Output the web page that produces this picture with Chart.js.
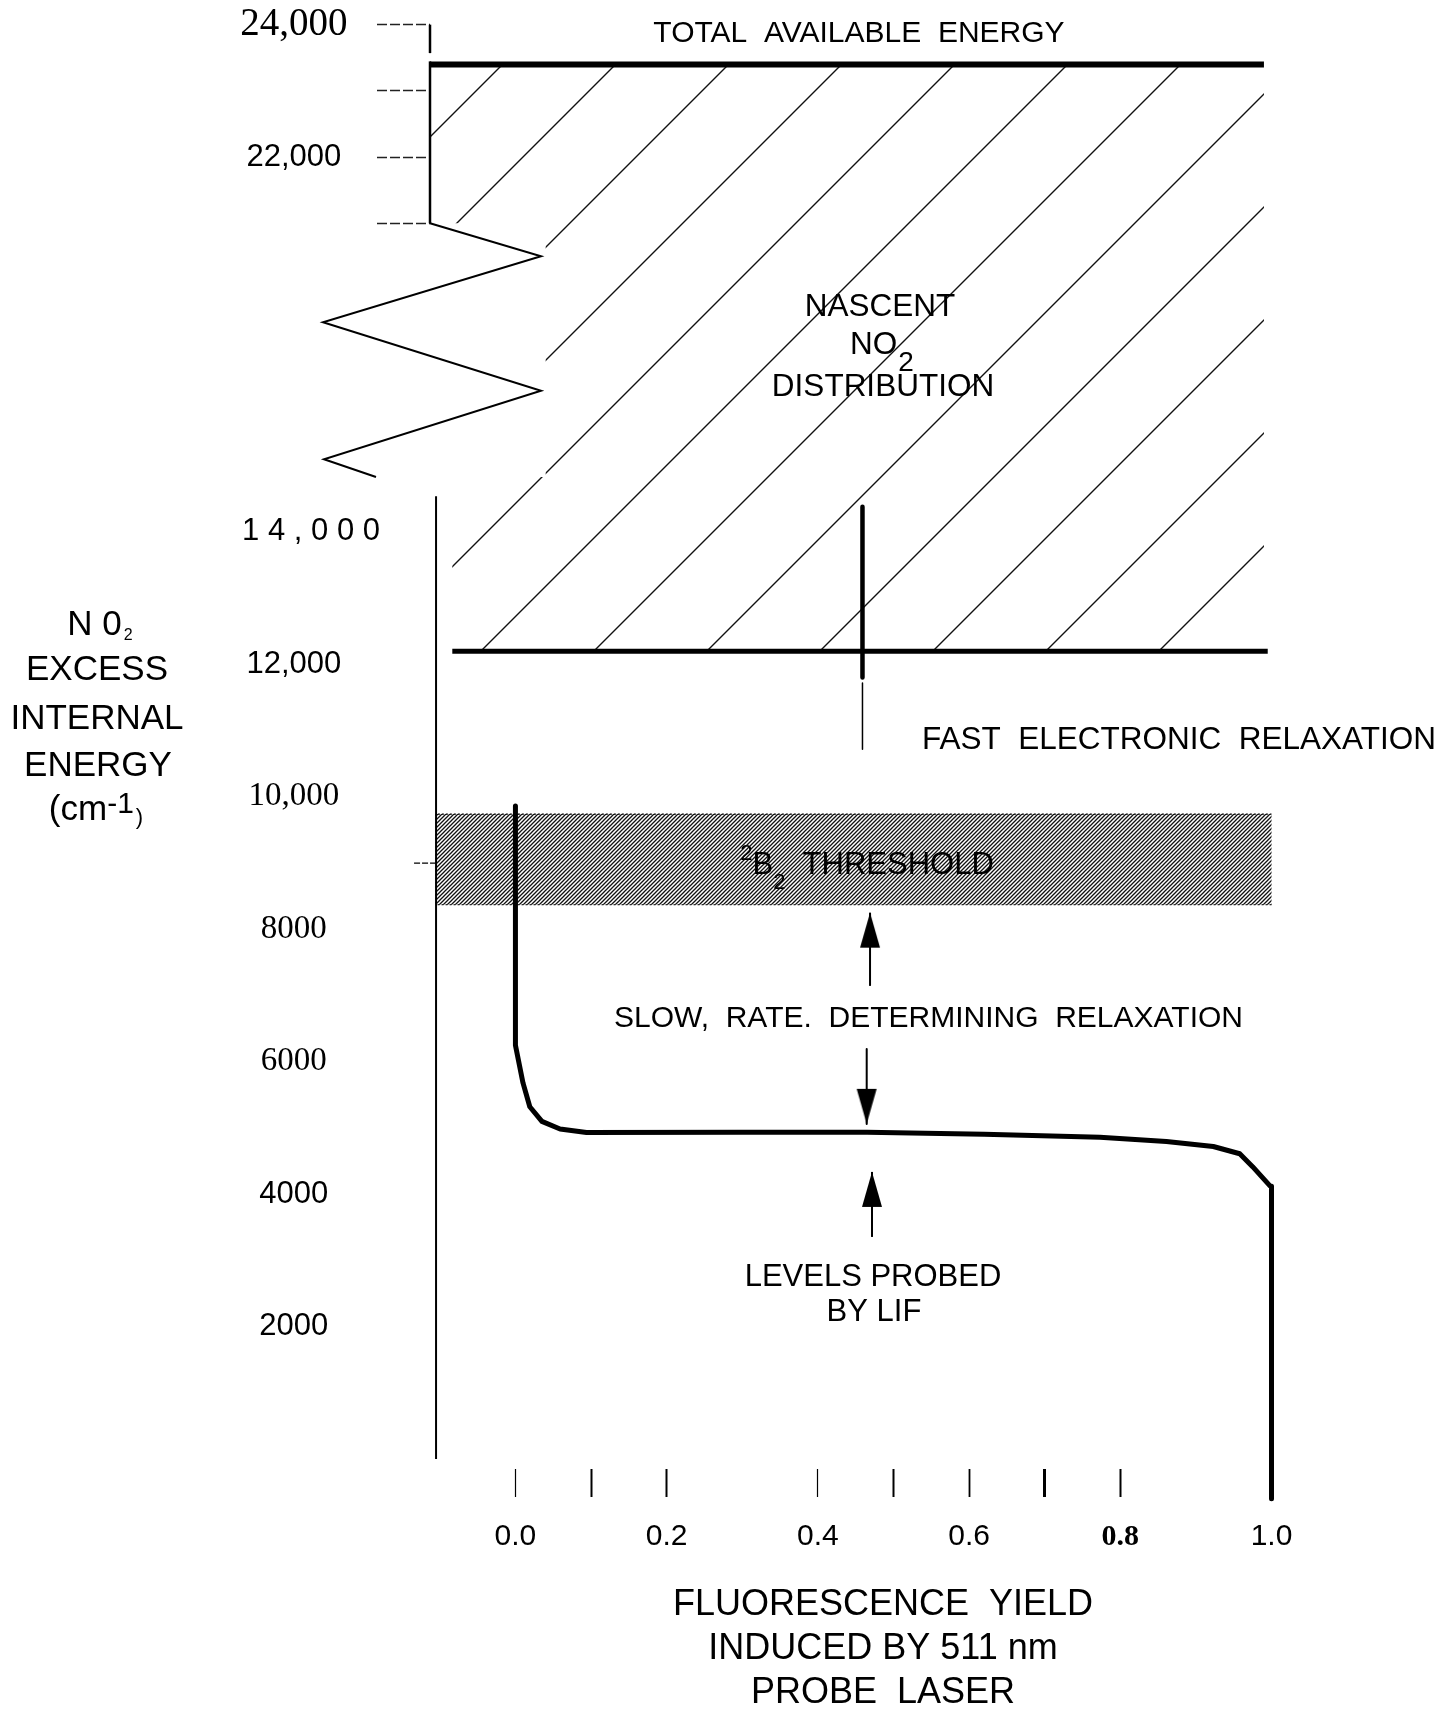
<!DOCTYPE html>
<html>
<head>
<meta charset="utf-8">
<title>NO2 excess internal energy vs fluorescence yield</title>
<script src="https://cdn.jsdelivr.net/npm/chart.js@4.4.1/dist/chart.umd.min.js"></script>
<style>
  html, body { margin: 0; padding: 0; background: #ffffff; }
  canvas { display: block; }
</style>
</head>
<body>
<canvas id="c" width="1438" height="1710"></canvas>
<script>
// ---------------- data ----------------
const X_TICKS = [0, 0.1, 0.2, 0.4, 0.5, 0.6, 0.7, 0.8, 1.0];
const X_TICK_LABELS = ['0.0', '', '0.2', '0.4', '', '0.6', '', '0.8', '1.0'];

const Y_TICKS = [24000, 23000, 22000, 21000, 14000, 12000, 10000, 8000, 6000, 4000, 2000];
const Y_TICK_LABELS = ['24,000', '', '22,000', '', '    1 4 , 0 0 0', '12,000', '10,000', '8000', '6000', '4000', '2000'];

// fluorescence yield induced by the 511 nm probe vs. NO2 internal energy
const CURVE_YIELD  = [0, 0, 0.010, 0.019, 0.035, 0.059, 0.094, 0.30, 0.465, 0.62, 0.773, 0.861, 0.923, 0.958, 0.975, 0.998, 1.0, 1.0];
const CURVE_ENERGY = [9860, 6250, 5680, 5320, 5100, 4985, 4930, 4935, 4935, 4905, 4860, 4795, 4720, 4610, 4415, 4125, 4120, -600];

// energy levels (cm-1)
const TOTAL_ENERGY = 23400;
const NASCENT_LOW = 12200;
const TOTAL_LINE_X = [-0.113, 0.99];
const LOW_LINE_X = [-0.0835, 0.995];

// nascent NO2 distribution region (outline, broken across the axis gap)
const NASCENT_X = [-0.113, 0.99, 0.99, -0.0835, -0.0835, 0.04, 0.04, -0.113];
const NASCENT_Y = [23400, 23400, 12200, 12200, 14830, 14830, 21000, 21000];

// 2B2 threshold band
const THRESHOLD_X = [1.0, -0.105, -0.105, 1.0];
const THRESHOLD_Y = [8370, 8370, 9740, 9740];

// fast electronic relaxation marker
const FAST_X = 0.459;
const FAST_THICK = [14380, 11800];
const FAST_THIN = [11720, 10720];

// arrows: tail energy -> tip energy
const ARROW_X    = [0.469, 0.4646, 0.4716];
const ARROW_FROM = [7145, 6193, 3354];
const ARROW_TO   = [8251, 5061, 4336];

// axis extent and break
const X_MIN = -0.113, X_MAX = 1.0853;
const Y_MIN = -150, Y_MAX = 24040;
const BREAK_LO = 14830, BREAK_HI = 21000, BREAK_GAP = 2340;
const Y_AXIS_LOW_TOP = 14540, Y_MINOR_TICK = 9000, BRACKET_END = 23570;
const LOWER_AXIS_X = -0.105;

// ---------------- helpers ----------------
const SANS = "'Liberation Sans', Arial, sans-serif";
const SERIF = "'Liberation Serif', 'Times New Roman', serif";
const pts = (xs, ys) => xs.map((x, i) => ({ x, y: ys[i] }));

// compress the broken energy axis
const BREAK_RATIO = (BREAK_HI - BREAK_GAP - BREAK_LO) / (BREAK_HI - BREAK_LO);
function squash(v) {
  if (v <= BREAK_LO) return v;
  if (v >= BREAK_HI) return v - BREAK_GAP;
  return BREAK_LO + (v - BREAK_LO) * BREAK_RATIO;
}
function unsquash(c) {
  if (c <= BREAK_LO) return c;
  if (c >= BREAK_HI - BREAK_GAP) return c + BREAK_GAP;
  return BREAK_LO + (c - BREAK_LO) / BREAK_RATIO;
}

class BrokenLinearScale extends Chart.LinearScale {
  determineDataLimits() {
    this.min = squash(this.options.min);
    this.max = squash(this.options.max);
  }
  buildTicks() {
    this.start = this.min;
    this.end = this.max;
    return Y_TICKS.map(v => ({ value: v }));
  }
  getPixelForValue(v) {
    return (v === null || v === undefined) ? NaN : super.getPixelForValue(squash(v));
  }
  getValueForPixel(p) {
    return unsquash(super.getValueForPixel(p));
  }
}
BrokenLinearScale.id = 'brokenLinear';
BrokenLinearScale.defaults = Chart.LinearScale.defaults;
Chart.register(BrokenLinearScale);

const canvas = document.getElementById('c');
const ctx0 = canvas.getContext('2d');

function hatchPattern(size, offset, width, color) {
  const c = document.createElement('canvas');
  c.width = size; c.height = size;
  const g = c.getContext('2d');
  g.strokeStyle = color; g.lineWidth = width;
  g.beginPath();
  for (let k = -1; k <= 2; k++) {
    const C = offset + k * size;
    g.moveTo(C - size - 1, size + 1);
    g.lineTo(C + 1, -1);
  }
  g.stroke();
  return ctx0.createPattern(c, 'repeat');
}
const WIDE_HATCH = hatchPattern(113, 2, 1.4, '#111');
const FINE_HATCH = hatchPattern(4, 0, 1.3, '#111');

function arrowHead() {
  const c = document.createElement('canvas');
  c.width = 22; c.height = 72;
  const g = c.getContext('2d');
  g.fillStyle = '#000';
  g.beginPath();
  g.moveTo(11, 36); g.lineTo(21, 71); g.lineTo(1, 71); g.closePath();
  g.fill();
  return c;
}
const HEAD = arrowHead();

function lineDs(data, width, extra) {
  return Object.assign({
    data, borderColor: '#000', borderWidth: width, pointRadius: 0,
    fill: false, borderJoinStyle: 'round', borderCapStyle: 'butt', order: 3
  }, extra || {});
}

const arrowSets = ARROW_X.map((x, i) => lineDs(
  [{ x, y: ARROW_FROM[i] }, { x, y: ARROW_TO[i] }], 2,
  {
    order: 0,
    pointStyle: c => c.dataIndex === 1 ? HEAD : 'circle',
    pointRadius: c => c.dataIndex === 1 ? 5 : 0,
    pointRotation: ARROW_TO[i] < ARROW_FROM[i] ? 180 : 0
  }
));

const datasets = [
  lineDs(pts(NASCENT_X, NASCENT_Y), 0, { fill: 'shape', backgroundColor: WIDE_HATCH, order: 10 }),
  lineDs(pts(THRESHOLD_X, THRESHOLD_Y), 1.2, { fill: 'shape', backgroundColor: FINE_HATCH, borderDash: [2, 2], order: 9 }),
  lineDs(TOTAL_LINE_X.map(x => ({ x, y: TOTAL_ENERGY })), 6),
  lineDs(LOW_LINE_X.map(x => ({ x, y: NASCENT_LOW })), 5),
  lineDs(FAST_THICK.map(y => ({ x: FAST_X, y })), 4.5),
  lineDs(FAST_THIN.map(y => ({ x: FAST_X, y })), 1.5),
  lineDs(pts(CURVE_YIELD, CURVE_ENERGY), 5, { clip: false, order: 1 }),
  ...arrowSets
];

// ---------------- text & axis decorations ----------------
function seg(ctx, x1, y1, x2, y2) {
  ctx.beginPath(); ctx.moveTo(x1, y1); ctx.lineTo(x2, y2); ctx.stroke();
}
// draws a run of text pieces [text, size, dy, family, gap] on a common baseline
function runs(ctx, parts, x, baseline, align) {
  let total = 0;
  const m = parts.map(p => {
    ctx.font = p[1] + 'px ' + (p[3] || SANS);
    const w = ctx.measureText(p[0]).width;
    total += w + (p[4] || 0);
    return w;
  });
  let cx = align === 'left' ? x : x - total / 2;
  ctx.textAlign = 'left';
  ctx.textBaseline = 'alphabetic';
  parts.forEach((p, i) => {
    cx += (p[4] || 0);
    ctx.font = p[1] + 'px ' + (p[3] || SANS);
    ctx.fillText(p[0], cx, baseline + (p[2] || 0));
    cx += m[i];
  });
}

const decor = {
  id: 'decor',
  afterDatasetsDraw(chart) {
    const { ctx, chartArea: a, scales: { x, y } } = chart;
    ctx.save();
    ctx.strokeStyle = '#000';
    ctx.lineCap = 'butt';

    // upper energy axis with bracket at the top tick
    ctx.lineWidth = 2.5;
    seg(ctx, a.left, y.getPixelForValue(Y_TICKS[0]), a.left, y.getPixelForValue(BRACKET_END));
    seg(ctx, a.left, y.getPixelForValue(TOTAL_ENERGY) - 3, a.left, y.getPixelForValue(BREAK_HI));

    // axis break zigzag
    const yt = y.getPixelForValue(BREAK_HI), yb = y.getPixelForValue(BREAK_LO), h = yb - yt;
    const zig = [[0, 0], [111, 0.13], [-107, 0.39], [111, 0.66], [-106, 0.93], [-54, 1]];
    ctx.lineWidth = 2;
    ctx.lineJoin = 'miter';
    ctx.beginPath();
    zig.forEach(([dx, f], i) => {
      const px = a.left + dx, py = yt + f * h;
      if (i === 0) ctx.moveTo(px, py); else ctx.lineTo(px, py);
    });
    ctx.stroke();

    // lower energy axis
    const lx = x.getPixelForValue(LOWER_AXIS_X);
    ctx.lineWidth = 2;
    seg(ctx, lx, y.getPixelForValue(Y_AXIS_LOW_TOP), lx, y.getPixelForValue(0));
    ctx.lineWidth = 1.3;
    ctx.setLineDash([6, 2]);
    const ym = y.getPixelForValue(Y_MINOR_TICK);
    seg(ctx, lx - 22, ym, lx, ym);
    ctx.setLineDash([]);
    ctx.restore();
  },
  afterDraw(chart) {
    const ctx = chart.ctx;
    ctx.save();
    ctx.fillStyle = '#000';

    runs(ctx, [['TOTAL  AVAILABLE  ENERGY', 30]], 859, 42);

    runs(ctx, [['NASCENT', 31.5]], 880, 316);
    runs(ctx, [['NO', 31.5], ['2', 28, 17, SANS, 1]], 882, 354);
    runs(ctx, [['DISTRIBUTION', 31.5]], 883, 396);

    runs(ctx, [['FAST  ELECTRONIC  RELAXATION', 31.5]], 922, 749, 'left');

    runs(ctx, [['2', 22, -14], ['B', 31, 0], ['2', 22, 15], ['  THRESHOLD', 31]], 867, 874);

    runs(ctx, [['SLOW,  RATE.  DETERMINING  RELAXATION', 30]], 614, 1027, 'left');

    runs(ctx, [['LEVELS PROBED', 31]], 873, 1286);
    runs(ctx, [['BY LIF', 31]], 874, 1321);

    // energy axis title
    runs(ctx, [['N', 35], [' 0', 35], ['2', 16, 5, SANS, 2]], 100, 635);
    runs(ctx, [['EXCESS', 35]], 97, 680);
    runs(ctx, [['INTERNAL', 35]], 97, 729);
    runs(ctx, [['ENERGY', 35]], 98, 776);
    runs(ctx, [['(cm', 35], ['-1', 30, -7], [')', 22, 4, SANS, 2]], 96, 820);
    ctx.restore();
  }
};

// ---------------- chart ----------------
Chart.defaults.color = '#000';
Chart.defaults.font.family = SANS;

const Y_TICK_FONTS = [
  { family: SERIF, size: 39 }, { family: SANS, size: 31 }, { family: SANS, size: 31 }, { family: SANS, size: 31 },
  { family: SANS, size: 31 }, { family: SANS, size: 31 }, { family: SERIF, size: 33 }, { family: SERIF, size: 33 },
  { family: SERIF, size: 33 }, { family: SANS, size: 31 }, { family: SANS, size: 31 }
];
const X_TICK_FONTS = X_TICKS.map(v => v === 0.8
  ? { family: SERIF, size: 30, weight: 'bold' }
  : { family: SANS, size: 30 });
const X_TICK_WIDTHS = [1.2, 2, 2, 1.2, 2, 1.8, 3, 2, 0];

new Chart(canvas, {
  type: 'line',
  data: { datasets },
  plugins: [decor],
  options: {
    responsive: false,
    devicePixelRatio: 1,
    animation: false,
    events: [],
    layout: { padding: { top: 22, right: 102, bottom: 0, left: 0 } },
    plugins: { legend: { display: false }, tooltip: { enabled: false } },
    elements: { point: { radius: 0, hoverRadius: 0 }, line: { tension: 0 } },
    scales: {
      x: {
        type: 'linear',
        min: X_MIN,
        max: X_MAX,
        afterBuildTicks: s => { s.ticks = X_TICKS.map(v => ({ value: v })); },
        afterFit: s => { s.height = 241; s.paddingLeft = 0; s.paddingRight = 0; },
        border: { display: false },
        grid: {
          drawOnChartArea: false,
          drawTicks: true,
          tickLength: 28,
          tickColor: c => X_TICK_WIDTHS[c.index] ? '#000' : 'rgba(0,0,0,0)',
          tickWidth: c => X_TICK_WIDTHS[c.index] || 1
        },
        ticks: {
          autoSkip: false,
          maxRotation: 0,
          padding: 22,
          color: '#000',
          font: c => X_TICK_FONTS[c.index],
          callback: (v, i) => X_TICK_LABELS[i]
        },
        title: {
          display: true,
          text: ['FLUORESCENCE  YIELD', 'INDUCED BY 511 nm', 'PROBE  LASER'],
          font: { family: SANS, size: 36, lineHeight: 1.22 },
          color: '#000',
          padding: { top: 0, bottom: -5 }
        }
      },
      y: {
        type: 'brokenLinear',
        min: Y_MIN,
        max: Y_MAX,
        afterFit: s => { s.width = 430; s.paddingTop = 0; s.paddingBottom = 0; },
        border: { display: false },
        grid: {
          drawOnChartArea: false,
          drawTicks: true,
          tickLength: 53,
          tickWidth: 1.6,
          tickBorderDash: [10, 3],
          tickColor: c => (Y_TICKS[c.index] >= BREAK_HI ? '#222' : 'rgba(0,0,0,0)')
        },
        ticks: {
          autoSkip: false,
          crossAlign: 'center',
          padding: -3,
          color: '#000',
          font: c => Y_TICK_FONTS[c.index],
          callback: (v, i) => Y_TICK_LABELS[i]
        }
      }
    }
  }
});
</script>
</body>
</html>
